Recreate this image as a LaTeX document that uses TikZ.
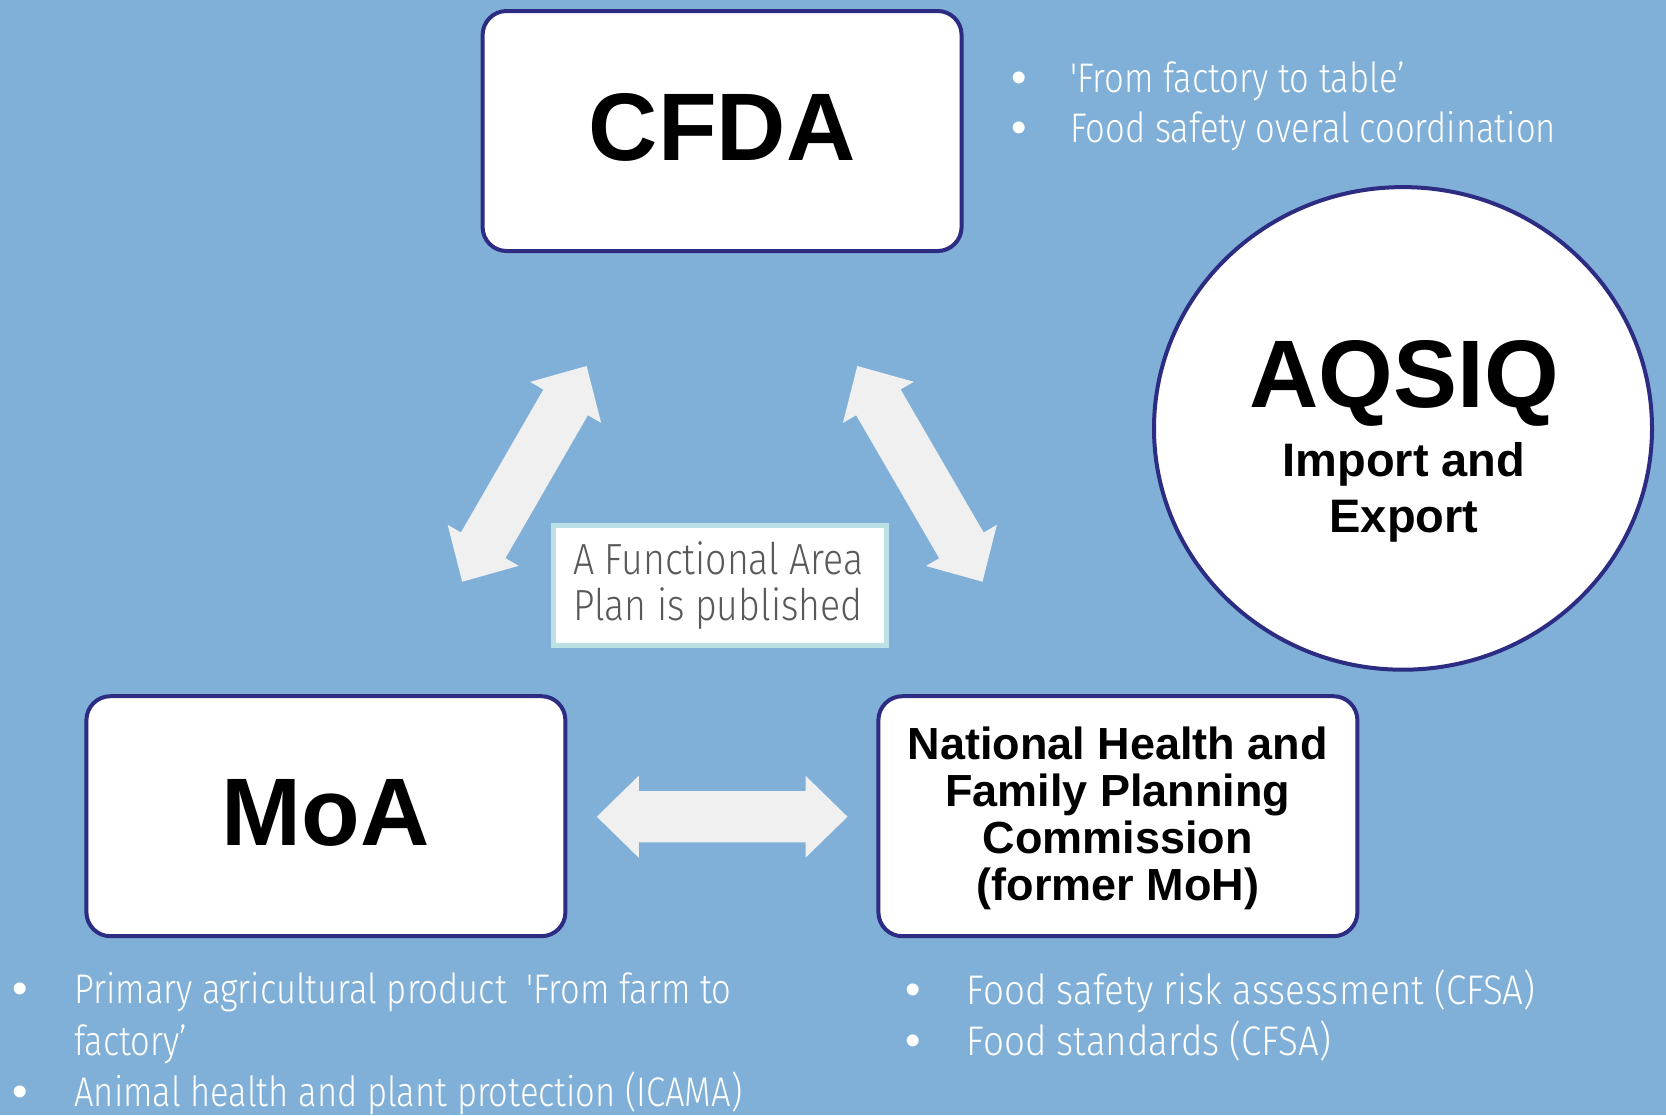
\documentclass[tikz,border=0pt]{standalone}
\usepackage{fontspec}
\setmainfont{Liberation Sans}
\newfontfamily\lightfont[FakeStretch=0.835]{Fira Sans Light}
\newfontfamily\lightwide[FakeStretch=0.887]{Fira Sans Light}
\newfontfamily\planfont[FakeStretch=0.86]{Fira Sans Light}
\newfontfamily\bulletfont{Liberation Sans}
\usetikzlibrary{calc,shapes.geometric}
\definecolor{bgblue}{HTML}{80B0D7}
\definecolor{navy}{HTML}{2C2C82}
\definecolor{arrowgrey}{HTML}{F0F0F0}
\definecolor{paleline}{HTML}{BCE1E5}
\definecolor{greytext}{HTML}{595959}
\newcommand\bul[1]{\makebox[#1][l]{\makebox[0pt]{\bulletfont\fontsize{22pt}{22pt}\selectfont •}}}
\newcommand\fatdouble[2]{%
  \coordinate (#1h) at ($(#1)!21pt!(#2)$);
  \coordinate (#2h) at ($(#2)!21pt!(#1)$);
  \fill[arrowgrey] (#2) -- ($(#2h)!20.5pt!90:(#2)$) -- ($(#2h)!12.85pt!90:(#2)$)
    -- ($(#1h)!12.85pt!90:(#2)$) -- ($(#1h)!20.5pt!90:(#2)$) -- (#1)
    -- ($(#1h)!20.5pt!-90:(#2)$) -- ($(#1h)!12.85pt!-90:(#2)$)
    -- ($(#2h)!12.85pt!-90:(#2)$) -- ($(#2h)!20.5pt!-90:(#2)$) -- cycle;}
\tikzset{
  orgbox/.style={draw=navy, line width=2pt, fill=white, rounded corners=12pt,
    minimum width=239.5pt, minimum height=120pt, inner sep=0pt, font=\bfseries},
  bigname/.style={font=\fontsize{48pt}{48pt}\selectfont\bfseries, text height=36pt, text depth=6.3pt},
  listtext/.style={font=\lightfont\fontsize{20.7pt}{25.85pt}\selectfont, text=white, inner sep=0pt, anchor=base west},
}
\begin{document}
\begin{tikzpicture}[x=0.5pt,y=-0.5pt]
\fill[bgblue] (0,0) rectangle (1666,1115);
\useasboundingbox (0,0) rectangle (1666,1115);

% arrows
\coordinate (la) at (462.2,581.7);
\coordinate (lb) at (586.6,366);
\coordinate (ra) at (857.3,366);
\coordinate (rb) at (982.5,581.7);
\coordinate (ha) at (596.8,816.7);
\coordinate (hb) at (847.5,816.7);
\fatdouble{la}{lb}
\fatdouble{ra}{rb}
\fatdouble{ha}{hb}

% organisations
\node[orgbox, bigname] (cfda) at (722.1,131) {CFDA};
\node[orgbox, bigname] (moa) at (325.9,816.2) {MoA};
\node[orgbox, font=\fontsize{22.5pt}{23.35pt}\selectfont\bfseries] (nhfpc) at (1117.9,816.2)
  {\begin{tabular}{@{}c@{}}\rule{0pt}{20.8pt}National Health and\\Family Planning\\Commission\\(former MoH)\end{tabular}};

\node[draw=navy, line width=2pt, fill=white, ellipse, minimum width=249pt, minimum height=241.3pt, inner sep=0pt] (aqsiq) at (1403,428.4) {};
\node[font=\fontsize{48pt}{48pt}\selectfont\bfseries, anchor=base, inner sep=0pt] (aqsiqname) at (1404,407.7) {AQSIQ};
\node[font=\fontsize{23.5pt}{28.35pt}\selectfont\bfseries, anchor=base, inner sep=0pt] (aqsiqrole) at (1404,476)
  {\begin{tabular}[t]{@{}c@{}}Import and\\Export\end{tabular}};

% central note
\node[draw=paleline, line width=2.5pt, fill=white, minimum width=166.5pt, minimum height=60.3pt, inner sep=0pt,
  text=greytext, font=\planfont\fontsize{21.8pt}{22.15pt}\selectfont] (plan) at (719.5,585.5)
  {\makebox[146.2pt][l]{\begin{tabular}{@{}l@{}}\rule{0pt}{18.3pt}A Functional Area\\Plan is published\end{tabular}}};

% bullet lists
\node[listtext, font=\lightfont\fontsize{20.7pt}{25pt}\selectfont] (cfdanotes) at (1018.3,92.7)
  {\begin{tabular}[t]{@{}l@{}}\bul{25.8pt}'From factory to table’\\\bul{25.8pt}Food safety overal coordination\end{tabular}};
\node[listtext] (moanotes) at (20,1003.3)
  {\begin{tabular}[t]{@{}l@{}}\bul{27pt}Primary agricultural product~ 'From farm to\\\hspace*{27pt}factory’\\\bul{27pt}Animal health and plant protection (ICAMA)\end{tabular}};
\node[listtext, font=\lightwide\fontsize{20.7pt}{25.85pt}\selectfont] (nhfpcnotes) at (912.7,1004)
  {\begin{tabular}[t]{@{}l@{}}\bul{26.8pt}Food safety risk assessment (CFSA)\\\bul{26.8pt}Food standards (CFSA)\end{tabular}};
\end{tikzpicture}
\end{document}
